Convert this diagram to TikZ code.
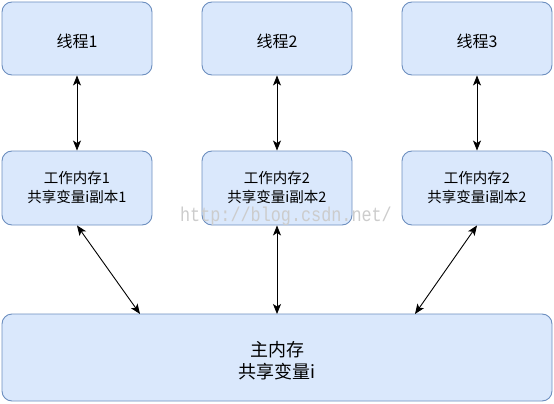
\documentclass[tikz,border=0pt]{standalone}
\usepackage{fontspec}
\setmainfont{Noto Sans CJK SC}
\newfontfamily\wmfont{Liberation Mono}
\usetikzlibrary{arrows.meta}
\definecolor{boxfill}{HTML}{DAE8FC}
\definecolor{boxline}{HTML}{6C8EBF}
\begin{document}
\begin{tikzpicture}[x=1pt,y=-1pt,
  box/.style={draw=boxline,fill=boxfill,line width=0.9pt,rounded corners=10pt,
    minimum width=150pt,inner sep=0pt,align=center},
  lbl/.style={inner sep=0pt,align=center},
  link/.style={line width=0.9pt,{Stealth[length=10pt,width=8pt,inset=2.5pt]}-{Stealth[length=10pt,width=8pt,inset=2.5pt]}}]
\useasboundingbox (0,0) rectangle (554,404);
\node[box,minimum height=73pt] (t1) at (77,38.5) {};
\node[box,minimum height=73pt] (t2) at (277,38.5) {};
\node[box,minimum height=73pt] (t3) at (477,38.5) {};
\node[box,minimum height=74pt] (w1) at (77,188) {};
\node[box,minimum height=74pt] (w2) at (277,188) {};
\node[box,minimum height=74pt] (w3) at (477,188) {};
\node[box,minimum width=550pt,minimum height=87pt] (m) at (277,357.5) {};
\node[lbl,font=\fontsize{16}{19}\selectfont] (tl1) at (77,41) {线程1};
\node[lbl,font=\fontsize{16}{19}\selectfont] (tl2) at (277,41) {线程2};
\node[lbl,font=\fontsize{16}{19}\selectfont] (tl3) at (477,41) {线程3};
\node[lbl,font=\fontsize{14.5}{19}\selectfont] (wl1) at (77,187.5) {工作内存1\\共享变量i副本1};
\node[lbl,font=\fontsize{14.5}{19}\selectfont] (wl2) at (277,187.5) {工作内存2\\共享变量i副本2};
\node[lbl,font=\fontsize{14.5}{19}\selectfont] (wl3) at (477,187.5) {工作内存2\\共享变量i副本2};
\node[lbl,font=\fontsize{18}{22}\selectfont] (ml) at (277,361) {主内存\\共享变量i};
\coordinate (m1) at (140,314);
\coordinate (m2) at (277,314);
\coordinate (m3) at (415,314);
\draw[link] (t1) -- (w1);
\draw[link] (t2) -- (w2);
\draw[link] (t3) -- (w3);
\draw[link] (w1.south) -- (m1);
\draw[link] (w2.south) -- (m2);
\draw[link] (w3.south) -- (m3);
\node[text=black!20,font=\wmfont\fontsize{20}{22}\selectfont,inner sep=0pt,anchor=base] (wm) at (286,221.5) {\scalebox{0.84}[1]{http://blog.csdn.net/}};
\end{tikzpicture}
\end{document}
